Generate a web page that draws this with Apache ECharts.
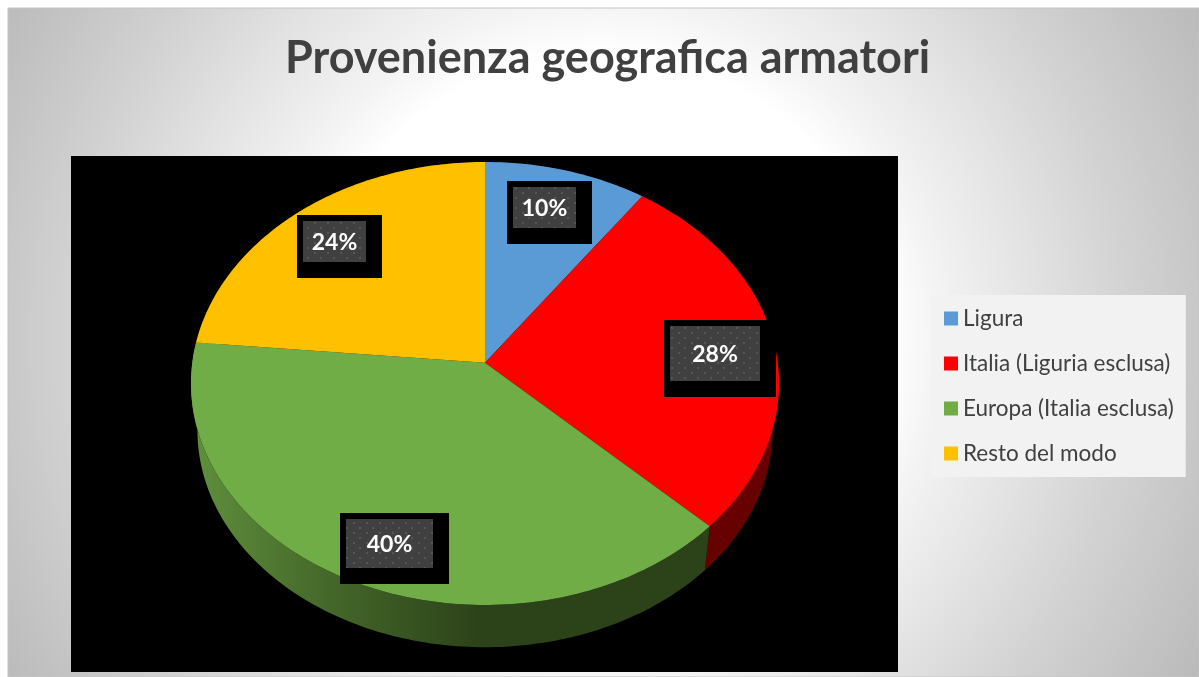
<!DOCTYPE html>
<html>
<head>
<meta charset="utf-8">
<title>Provenienza geografica armatori</title>
<style>
html,body{margin:0;padding:0;background:#fff;}
#chart{width:1199px;height:677px;}
</style>
<script src="https://cdn.jsdelivr.net/npm/echarts@6/dist/echarts.min.js"></script>
</head>
<body>
<div id="chart"></div>
<script>
//dati del grafico
var titleText = 'Provenienza geografica armatori';
var categories = ['Ligura', 'Italia (Liguria esclusa)', 'Europa (Italia esclusa)', 'Resto del modo'];
var values = [10, 28, 40, 24];

//colori
var colors = ['#5B9BD5', '#FF0000', '#70AD47', '#FFC000'];
var sideColors = ['#2a4a66', '#670000', null, '#6b5000'];
var FONT = 'Lato, "Noto Sans", sans-serif';

//geometria della torta in prospettiva (k = prospettiva, scale = bordo inferiore)
var pie = {cx: 485, cy: 362.7, a: 292.7, b: 219.5, k: 0.0939, scale: 0.978, vanishY: 2527};
//posizione delle etichette: frazione del raggio e correzione in gradi rispetto al centro della fetta
var labelRadius = [0.79, 0.79, 0.822, 0.794];
var labelTurn = [-1.65, 2.4, -3.1, -0.7];

var total = 0;
for (var i = 0; i < values.length; i++) {
	total += values[i];
}

//punto sul piano della torta -> schermo
function project(deg, r) {
	var t = deg * Math.PI / 180;
	var u = Math.sin(t) * r;
	var v = -Math.cos(t) * r;
	var d = 1 - pie.k * v;
	return [pie.cx + pie.a * u / d, pie.cy + pie.b * v / d];
}
//stesso punto sul bordo inferiore
function lower(p) {
	return [
		pie.cx + (p[0] - pie.cx) * pie.scale,
		pie.vanishY + (p[1] - pie.vanishY) * pie.scale
	];
}

//texture a puntini delle etichette
function dotPattern() {
	var c = document.createElement('canvas');
	c.width = 13;
	c.height = 10;
	var g = c.getContext('2d');
	g.fillStyle = '#404040';
	g.fillRect(0, 0, 13, 10);
	g.fillStyle = '#565656';
	g.fillRect(2, 2, 2, 2);
	g.fillRect(8, 7, 2, 2);
	return c;
}
var pattern = dotPattern();

function renderSlice(index) {
	return function (params, api) {
		var start = api.value(0) / total * 360;
		var end = (api.value(0) + api.value(1)) / total * 360;
		var rim = [];
		for (var d = start; d < end; d += 1) {
			rim.push(project(d, 1));
		}
		rim.push(project(end, 1));

		var wall = rim.slice();
		for (var j = rim.length - 1; j >= 0; j--) {
			wall.push(lower(rim[j]));
		}
		var sideFill = sideColors[index];
		if (!sideFill) {
			sideFill = {
				type: 'linear', x: 195, y: 0, x2: 480, y2: 0, global: true,
				colorStops: [
					{offset: 0, color: '#5f8f3c'},
					{offset: 0.45, color: '#45692a'},
					{offset: 1, color: '#2c4219'}
				]
			};
		}

		var mid = (start + end) / 2 + labelTurn[index];
		var c = project(mid, labelRadius[index]);
		var bw = index == 2 ? 87 : (index == 1 ? 90 : 63);
		var bh = index == 2 ? 49 : (index == 1 ? 55 : 41);
		var px = Math.round(c[0] - bw / 2);
		var py = Math.round(c[1] - bh / 2);

		return {
			type: 'group',
			children: [
				{type: 'polygon', z2: 1, shape: {points: wall}, style: {fill: sideFill}},
				{type: 'polygon', z2: 2, shape: {points: [[pie.cx, pie.cy]].concat(rim)}, style: {fill: colors[index]}},
				{type: 'rect', z2: 3, shape: {x: px - 6, y: py - 6, width: bw + 22, height: bh + 22}, style: {fill: '#000'}},
				{type: 'rect', z2: 4, shape: {x: px, y: py, width: bw, height: bh}, style: {fill: {image: pattern, repeat: 'repeat'}}},
				{type: 'text', z2: 5, style: {
					x: px + bw / 2, y: py + bh / 2 + 1,
					text: api.value(1) + '%',
					fill: '#fff', font: 'bold 23px ' + FONT,
					textAlign: 'center', textVerticalAlign: 'middle'
				}}
			]
		};
	};
}

//una serie per fetta, cosi la legenda le elenca tutte
var series = [];
var sum = 0;
for (var n = 0; n < values.length; n++) {
	series.push({
		type: 'custom',
		name: categories[n],
		coordinateSystem: 'none',
		silent: true,
		itemStyle: {color: colors[n]},
		data: [[sum, values[n]]],
		renderItem: renderSlice(n)
	});
	sum += values[n];
}

var myChart = echarts.init(document.getElementById('chart'), null, {renderer: 'canvas'});
var option = {
	animation: false,
	backgroundColor: '#fff',
	title: {
		text: titleText,
		left: 285,
		top: 36,
		padding: 0,
		textStyle: {fontFamily: FONT, fontWeight: 'bold', fontSize: 45, color: '#404040'}
	},
	legend: {
		orient: 'vertical',
		left: 931,
		top: 295,
		padding: [12, 12, 12, 13],
		backgroundColor: '#f2f2f2',
		itemWidth: 14,
		itemHeight: 14,
		itemGap: 22,
		icon: 'rect',
		selectedMode: false,
		data: categories,
		textStyle: {fontFamily: FONT, fontSize: 22.5, lineHeight: 23, color: '#404040'}
	},
	graphic: [
		{
			type: 'rect', z: 0,
			shape: {x: 8, y: 8, width: 1191, height: 669},
			style: {
				fill: {
					type: 'radial', x: 600, y: 340, r: 681, global: true,
					colorStops: [
						{offset: 0, color: '#ffffff'},
						{offset: 0.42, color: '#ffffff'},
						{offset: 0.5, color: '#f3f3f3'},
						{offset: 0.78, color: '#d2d2d2'},
						{offset: 1, color: '#bbbbbb'}
					]
				},
				stroke: '#c4c4c4', lineWidth: 1
			}
		},
		{
			type: 'rect', z: 0,
			shape: {x: 71, y: 156, width: 827, height: 516},
			style: {fill: '#000'}
		}
	],
	series: series
};
myChart.setOption(option);
</script>
</body>
</html>
